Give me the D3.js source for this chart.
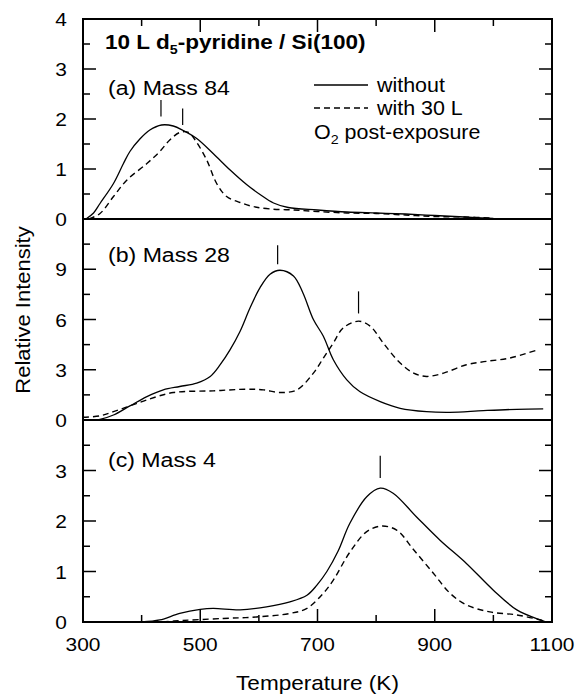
<!DOCTYPE html>
<html>
<head>
<meta charset="utf-8">
<script src="https://cdn.jsdelivr.net/npm/d3@7"></script>
<style>
  body { margin: 0; background: #fff; }
  text { font-family: "Liberation Sans", Arial, sans-serif; fill: #000; }
</style>
</head>
<body>
<div id="main"></div>
<script>
// [temperature K, intensity]
const mass84Without = [[305,0],[318,0.12],[329,0.31],[352,0.71],[369,1.11],[380,1.35],[397,1.6],[414,1.78],[434,1.88],[454,1.86],[471,1.77],[494,1.61],[522,1.31],[551,0.98],[579,0.69],[602,0.49],[625,0.32],[650,0.23],[700,0.18],[750,0.14],[800,0.12],[850,0.1],[900,0.07],[950,0.04],[1000,0.01]];
const mass84With = [[310,0],[329,0.11],[352,0.45],[375,0.78],[409,1.11],[431,1.35],[448,1.58],[465,1.73],[480,1.73],[494,1.53],[511,1.18],[528,0.71],[545,0.45],[568,0.33],[590,0.25],[620,0.2],[660,0.18],[700,0.15],[750,0.12],[800,0.11],[850,0.08],[900,0.05],[950,0.04],[1000,0.02]];
const mass28Without = [[320,0],[329,0.04],[352,0.3],[380,0.84],[409,1.4],[437,1.8],[465,2.0],[494,2.2],[517,2.6],[534,3.3],[551,4.2],[568,5.3],[585,6.7],[602,7.9],[619,8.7],[636,8.94],[659,8.6],[675,7.6],[693,6.0],[710,5.0],[727,3.6],[750,2.4],[772,1.7],[807,1.1],[841,0.7],[886,0.5],[926,0.46],[983,0.56],[1040,0.64],[1085,0.66]];
const mass28With = [[300,0.16],[329,0.25],[352,0.5],[380,0.84],[409,1.2],[454,1.64],[522,1.74],[579,1.84],[608,1.8],[636,1.64],[665,1.8],[693,2.8],[710,3.7],[727,4.6],[744,5.5],[770,5.9],[790,5.6],[812,4.6],[841,3.4],[864,2.8],[886,2.6],[915,2.8],[954,3.3],[988,3.5],[1028,3.7],[1072,4.15]];
const mass4Without = [[400,0],[431,0.04],[465,0.17],[500,0.25],[522,0.27],[568,0.24],[613,0.3],[653,0.4],[682,0.53],[699,0.73],[716,1.0],[735,1.4],[755,1.95],[784,2.48],[807,2.65],[829,2.55],[869,2.08],[909,1.62],[954,1.16],[1000,0.63],[1040,0.24],[1080,0.04],[1090,0]];
const mass4With = [[436,0],[455,0.02],[539,0.07],[596,0.1],[653,0.17],[682,0.27],[710,0.57],[727,0.83],[755,1.38],[784,1.79],[809,1.9],[835,1.82],[864,1.43],[898,0.96],[926,0.57],[954,0.34],[994,0.2],[1040,0.14],[1080,0.04],[1092,0]];

// peak markers: [temperature, y from, y to]
const mass84Peaks = [[433,2.05,2.38],[470,1.88,2.21]];
const mass28Peaks = [[632,9.3,10.44],[770,6.36,7.68]];
const mass4Peaks = [[807,2.85,3.29]];

const panelLabels = ["(a) Mass 84", "(b) Mass 28", "(c) Mass 4"];
const panelMax = [4, 12, 4];
const panelStep = [1, 3, 1];
const panelLabelTop = [4, 9, 3];
const xTickLabels = [300, 500, 700, 900, 1100];

const W = 578, H = 697;
const left = 83, right = 552;
const panelTops = [19, 219, 420];
const panelBottoms = [219, 420, 622];
const stretch = 1.1; // the original lettering is a little wide

let svg = d3.select('#main').append('svg').attr('width', W).attr('height', H);

function label(parent, tx, ty, size, anchor, extra) {
    return parent.append('text')
        .attr('transform', `translate(${tx},${ty}) ${extra || ''} scale(${stretch},1)`)
        .attr('text-anchor', anchor || 'start')
        .style('font-size', size + 'px');
}

let x = d3.scaleLinear().domain([300, 1100]).range([left, right]);

let panels = [
    {without: mass84Without, with: mass84With, peaks: mass84Peaks},
    {without: mass28Without, with: mass28With, peaks: mass28Peaks},
    {without: mass4Without, with: mass4With, peaks: mass4Peaks}
];

panels.forEach((p, i) => {
    let y = d3.scaleLinear().domain([0, panelMax[i]]).range([panelBottoms[i], panelTops[i]]);
    let g = svg.append('g');

    let line = d3.line()
        .x(d => x(d[0]))
        .y(d => Math.min(y(d[1]), panelBottoms[i]))
        .curve(d3.curveCatmullRom.alpha(0.5));

    g.append('path').attr('d', line(p.without))
        .attr('fill', 'none').attr('stroke', '#000').attr('stroke-width', 1.3);
    g.append('path').attr('d', line(p.with))
        .attr('fill', 'none').attr('stroke', '#000').attr('stroke-width', 1.4)
        .attr('stroke-dasharray', '6,4');

    p.peaks.forEach(pk => {
        g.append('line')
            .attr('x1', x(pk[0])).attr('x2', x(pk[0]))
            .attr('y1', y(pk[1])).attr('y2', y(pk[2]))
            .attr('stroke', '#000').attr('stroke-width', 1.2);
    });

    // y ticks, both sides, inward
    let step = panelStep[i];
    let ticks = d3.range(0, panelMax[i] + 1e-9, step / 2);
    ticks.forEach(t => {
        let major = Math.abs(t / step - Math.round(t / step)) < 1e-6;
        let len = major ? 13 : 7;
        g.append('line').attr('x1', left).attr('x2', left + len)
            .attr('y1', y(t)).attr('y2', y(t)).attr('stroke', '#000').attr('stroke-width', 1.5);
        g.append('line').attr('x1', right).attr('x2', right - len)
            .attr('y1', y(t)).attr('y2', y(t)).attr('stroke', '#000').attr('stroke-width', 1.5);
        if (major && t <= panelLabelTop[i]) {
            label(g, 67, y(t) + 7, 19, 'end').text(t);
        }
    });

    label(g, 108, panelTops[i] + [76, 43, 47][i], 21).text(panelLabels[i]);
});

// x ticks top and bottom
d3.range(400, 1100, 100).forEach(t => {
    let major = (t - 300) % 200 === 0;
    let len = major ? 13 : 7;
    svg.append('line').attr('x1', x(t)).attr('x2', x(t))
        .attr('y1', panelTops[0]).attr('y2', panelTops[0] + len).attr('stroke', '#000').attr('stroke-width', 1.5);
    svg.append('line').attr('x1', x(t)).attr('x2', x(t))
        .attr('y1', panelBottoms[2]).attr('y2', panelBottoms[2] - len).attr('stroke', '#000').attr('stroke-width', 1.5);
});
xTickLabels.forEach(t => {
    label(svg, x(t), 651, 19, 'middle').text(t);
});

// frame + panel separators
svg.append('rect').attr('x', left).attr('y', panelTops[0])
    .attr('width', right - left).attr('height', panelBottoms[2] - panelTops[0])
    .attr('fill', 'none').attr('stroke', '#000').attr('stroke-width', 2);
[panelBottoms[0], panelBottoms[1]].forEach(yy => {
    svg.append('line').attr('x1', left).attr('x2', right).attr('y1', yy).attr('y2', yy)
        .attr('stroke', '#000').attr('stroke-width', 2);
});

// title
let title = label(svg, 105, 49, 20.5).style('font-weight', 'bold');
title.append('tspan').text('10 L d');
title.append('tspan').attr('dy', 5).style('font-size', '13px').text('5');
title.append('tspan').attr('dy', -5).text('-pyridine / Si(100)');

// legend
svg.append('line').attr('x1', 314).attr('x2', 368).attr('y1', 85).attr('y2', 85)
    .attr('stroke', '#000').attr('stroke-width', 1.3);
label(svg, 377, 92, 19.5).text('without');
svg.append('line').attr('x1', 314).attr('x2', 368).attr('y1', 108).attr('y2', 108)
    .attr('stroke', '#000').attr('stroke-width', 1.3).attr('stroke-dasharray', '6,4');
label(svg, 377, 115, 19.5).text('with 30 L');
let o2 = label(svg, 314, 139, 19.5);
o2.append('tspan').text('O');
o2.append('tspan').attr('dy', 5).style('font-size', '13px').text('2');
o2.append('tspan').attr('dy', -5).text(' post-exposure');

// axis titles
label(svg, x(700), 690, 20.5, 'middle').text('Temperature (K)');
label(svg, 30, 310, 20, 'middle', 'rotate(-90)').text('Relative Intensity');
</script>
</body>
</html>
